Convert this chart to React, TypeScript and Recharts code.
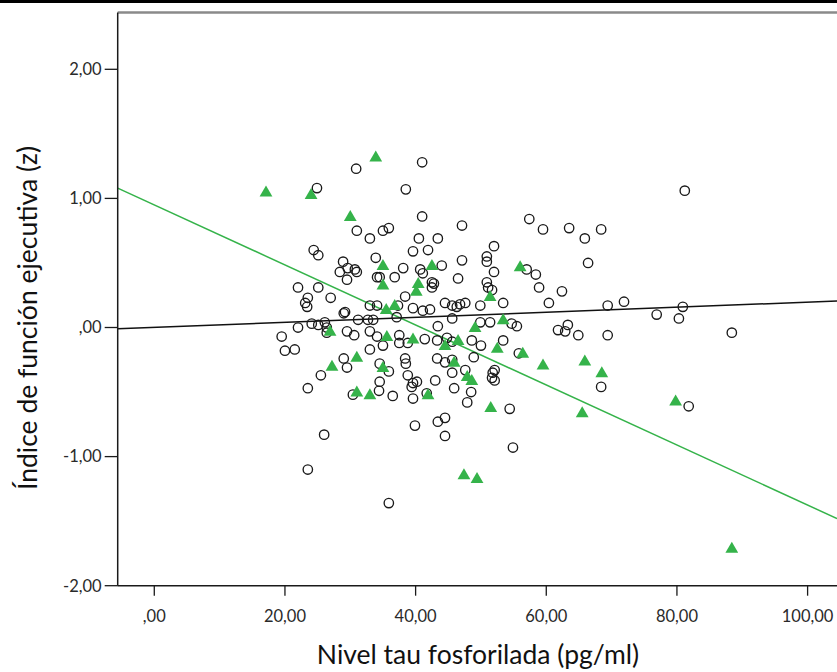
import React from "react";
import { ScatterChart, Scatter, XAxis, YAxis, ReferenceLine } from "recharts";

const GREEN = "#35b34a";
const FONT = "Lato, 'Open Sans', sans-serif";

// Axis settings (values)
const X_DOMAIN: [number, number] = [-5.6, 104.5];
const Y_DOMAIN: [number, number] = [-2, 2.44];
const xTicks = [0, 20, 40, 60, 80, 100];
const xTickLabels = [",00", "20,00", "40,00", "60,00", "80,00", "100,00"];
const yTicks = [-2, -1, 0, 1, 2];
const yTickLabels = ["-2,00", "-1,00", ",00", "1,00", "2,00"];

const xTitle = "Nivel tau fosforilada (pg/ml)";
const yTitle = "Índice de función ejecutiva (z)";

// Group A: open circles [tau, index]
const circlePoints: [number, number][] = [
  [30.9, 1.23], [24.9, 1.08], [31.0, 0.75], [33.0, 0.69], [35.0, 0.75], [35.9, 0.77], [24.4, 0.6], [25.1, 0.56], [33.9, 0.54], [28.9, 0.51],
  [28.4, 0.43], [29.6, 0.46], [30.7, 0.45], [31.0, 0.43], [29.5, 0.37], [34.1, 0.39], [34.5, 0.39], [36.8, 0.39], [22.0, 0.31], [25.1, 0.31],
  [23.5, 0.23], [23.1, 0.19], [23.4, 0.16], [27.0, 0.23], [29.2, 0.12], [33.0, 0.17], [34.1, 0.17], [32.7, 0.06], [33.5, 0.06], [31.2, 0.06],
  [22.0, 0.0], [24.1, 0.03], [25.1, 0.02], [26.1, 0.04], [26.4, 0.0], [19.5, -0.07], [29.5, -0.03], [30.6, -0.06], [33.0, -0.03],
  [41.0, 1.28], [38.5, 1.07], [41.0, 0.86], [47.1, 0.79], [57.4, 0.84], [59.5, 0.76], [63.5, 0.77], [65.9, 0.69], [68.4, 0.76],
  [40.5, 0.69], [43.4, 0.69], [39.6, 0.59], [41.9, 0.6], [52.0, 0.63], [50.9, 0.55], [50.9, 0.51], [47.1, 0.52], [44.0, 0.48], [38.1, 0.46],
  [40.7, 0.45], [41.1, 0.42], [42.5, 0.35], [42.8, 0.34], [42.5, 0.31], [46.5, 0.38], [52.0, 0.43], [50.9, 0.35], [51.1, 0.31], [51.7, 0.29],
  [57.0, 0.45], [58.4, 0.41], [58.9, 0.31], [62.4, 0.28], [66.4, 0.5], [38.4, 0.24], [53.4, 0.19], [60.4, 0.19], [69.4, 0.17], [71.9, 0.2],
  [76.9, 0.1], [80.3, 0.07], [39.6, 0.15], [41.1, 0.13], [42.2, 0.14], [44.5, 0.19], [45.6, 0.17], [46.3, 0.16], [46.8, 0.18], [47.6, 0.19],
  [49.9, 0.17], [45.6, 0.07], [43.4, 0.01], [51.4, 0.04], [49.9, 0.04], [54.7, 0.03], [55.5, 0.01], [63.3, 0.02], [61.8, -0.02], [62.9, -0.03],
  [64.9, -0.06], [69.4, -0.06], [37.1, 0.08], [80.9, 0.16], [20.0, -0.18], [21.5, -0.17], [26.4, -0.04], [34.1, -0.07], [35.0, -0.14], [33.0, -0.17],
  [29.0, -0.24], [29.5, -0.31], [34.5, -0.28], [35.9, -0.34], [34.5, -0.42], [34.4, -0.49], [36.5, -0.53], [25.5, -0.37], [23.5, -0.47], [30.4, -0.52],
  [37.5, -0.06], [37.5, -0.12], [38.8, -0.12], [38.4, -0.24], [38.5, -0.28], [38.8, -0.37], [39.6, -0.43], [40.2, -0.42], [39.4, -0.46], [39.6, -0.55],
  [41.4, -0.09], [41.7, -0.51], [43.0, -0.41], [43.3, -0.1], [43.3, -0.24], [44.5, -0.27], [45.6, -0.25], [44.8, -0.08], [45.6, -0.11],
  [45.6, -0.35], [47.6, -0.33], [45.9, -0.47], [48.5, -0.5], [47.9, -0.58], [48.9, -0.23], [50.0, -0.14], [48.6, -0.1], [39.9, -0.76], [43.4, -0.73],
  [44.5, -0.7], [44.5, -0.84], [26.0, -0.83], [23.5, -1.1], [35.9, -1.36], [52.1, -0.33], [51.7, -0.39], [52.1, -0.41], [37.3, 0.17], [88.4, -0.04],
  [53.4, -0.1], [55.8, -0.2], [51.8, -0.35], [68.4, -0.46], [81.8, -0.61], [54.4, -0.63], [54.9, -0.93], [81.2, 1.06], [29.0, 0.11],
];

// Group B: green triangles [tau, index]
const trianglePoints: [number, number][] = [
  [17.1, 1.05], [24.0, 1.03], [33.9, 1.32], [30.0, 0.86], [35.0, 0.48], [35.0, 0.33], [35.5, 0.14], [36.8, 0.17], [26.9, -0.03], [35.6, -0.07],
  [42.5, 0.48], [40.4, 0.34], [40.1, 0.28], [56.0, 0.47], [51.4, 0.24], [53.4, 0.06], [49.1, 0.0], [39.6, -0.09], [31.0, -0.23], [27.2, -0.3],
  [35.0, -0.31], [31.0, -0.5], [33.0, -0.52], [41.9, -0.52], [44.5, -0.14], [46.5, -0.1], [45.9, -0.27], [47.9, -0.38], [48.6, -0.41], [52.5, -0.16],
  [51.5, -0.62], [47.4, -1.14], [49.4, -1.17], [56.4, -0.2], [59.5, -0.29], [65.9, -0.26], [68.5, -0.35], [65.5, -0.66], [79.8, -0.57], [88.4, -1.71],
];

// Fit lines (endpoints at the plot edges)
const blackFit: [number, number][] = [[-5.6, -0.01], [104.5, 0.205]];
const greenFit: [number, number][] = [[-5.6, 1.08], [104.5, -1.48]];

const toObj = (arr: [number, number][]) => arr.map(([x, y]) => ({ x, y }));
const circleData = toObj(circlePoints);
const triangleData = toObj(trianglePoints);

const OpenCircle = (props: any) => {
  const { cx, cy } = props;
  if (cx == null || cy == null) return null;
  return <circle cx={cx} cy={cy} r={4.7} fill="none" stroke="#1a1a1a" strokeWidth={1.35} />;
};

const Triangle = (props: any) => {
  const { cx, cy } = props;
  if (cx == null || cy == null) return null;
  const pts = `${cx},${cy - 6.5} ${cx + 6.4},${cy + 4.5} ${cx - 6.4},${cy + 4.5}`;
  return <polygon points={pts} fill={GREEN} />;
};

const fmt = (ticks: number[], labels: string[]) => (v: number) => {
  const i = ticks.indexOf(v);
  return i >= 0 ? labels[i] : String(v);
};

export default function App() {
  const W = 837;
  const H = 672;
  return (
    <div style={{ position: "absolute", left: 0, top: 0, width: W, height: H, overflow: "hidden", background: "#fff" }}>
      <div style={{ position: "absolute", left: 0, top: 0, width: W, height: 3, background: "#000" }} />
      <div style={{ position: "absolute", left: 0, top: 0 }}>
        <ScatterChart width={W} height={H} margin={{ top: 12.5, right: 0, bottom: 0, left: 0 }}>
          <XAxis
            type="number"
            dataKey="x"
            domain={X_DOMAIN}
            ticks={xTicks}
            tickFormatter={fmt(xTicks, xTickLabels)}
            height={86.3}
            tickSize={10}
            tickMargin={15}
            axisLine={{ stroke: "#1a1a1a", strokeWidth: 1.5 }}
            tickLine={{ stroke: "#1a1a1a", strokeWidth: 1.3 }}
            tick={{ fill: "#2a2a2a", fontSize: 16.5, fontFamily: FONT }}
            allowDataOverflow
            interval={0}
          />
          <YAxis
            type="number"
            dataKey="y"
            domain={Y_DOMAIN}
            ticks={yTicks}
            tickFormatter={fmt(yTicks, yTickLabels)}
            width={117.7}
            tickSize={13}
            tickMargin={3}
            axisLine={{ stroke: "#1a1a1a", strokeWidth: 1.5 }}
            tickLine={{ stroke: "#1a1a1a", strokeWidth: 1.3 }}
            tick={{ fill: "#2a2a2a", fontSize: 16.5, fontFamily: FONT }}
            allowDataOverflow
            interval={0}
          />
          <ReferenceLine y={Y_DOMAIN[1]} stroke="#8a8a8a" strokeWidth={2.5} />
          <Scatter data={circleData} shape={OpenCircle} isAnimationActive={false} />
          <Scatter data={triangleData} shape={Triangle} isAnimationActive={false} />
          <ReferenceLine
            segment={toObj(greenFit)}
            stroke={GREEN}
            strokeWidth={1.5}
          />
          <ReferenceLine
            segment={toObj(blackFit)}
            stroke="#111"
            strokeWidth={1.5}
          />
        </ScatterChart>
      </div>
      <svg
        width={W}
        height={H}
        style={{ position: "absolute", left: 0, top: 0, pointerEvents: "none" }}
      >
        <text x={478} y={664} textAnchor="middle" fontFamily={FONT} fontSize={26.5} fill="#111">
          {xTitle}
        </text>
        <text
          x={0}
          y={0}
          transform={`translate(37, 318) rotate(-90)`}
          textAnchor="middle"
          fontFamily={FONT}
          fontSize={26.5}
          fill="#111"
        >
          {yTitle}
        </text>
      </svg>
    </div>
  );
}
